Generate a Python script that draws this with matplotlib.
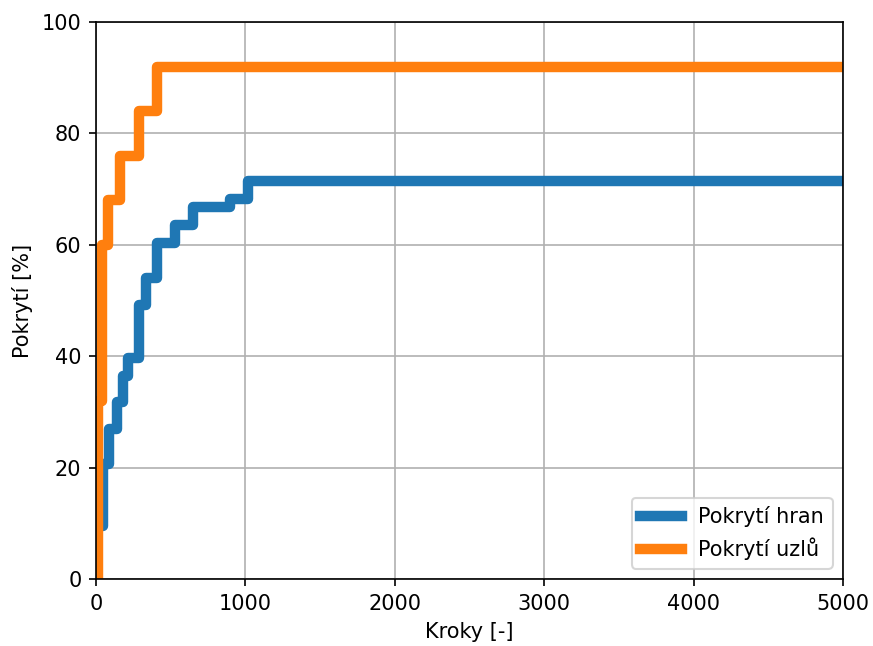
import matplotlib
matplotlib.use("Agg")
import matplotlib.pyplot as plt

# krok, pokryti hran [%]
kroky_hran = [0, 45, 89, 138, 179, 217, 290, 335, 406, 529, 652, 897, 1020, 5000]
pokryti_hran = [9.5, 20.6, 27.0, 31.7, 36.5, 39.7, 49.2, 54.0, 60.3, 63.5, 66.7, 68.3, 71.4, 71.4]

# krok, pokryti uzlu [%]
kroky_uzlu = [0, 12, 38, 83, 161, 290, 411, 5000]
pokryti_uzlu = [0, 32, 60, 68, 76, 84, 92, 92]

fig = plt.figure(figsize=(873 / 150, 646 / 150), dpi=150)
ax = fig.add_axes([96 / 873, 1 - 579 / 646, (843 - 96) / 873, (579 - 22) / 646])

ax.plot(kroky_hran, pokryti_hran, drawstyle='steps-post', linewidth=5, label='Pokrytí hran')
ax.plot(kroky_uzlu, pokryti_uzlu, drawstyle='steps-post', linewidth=5, label='Pokrytí uzlů')

ax.set_xlim(0, 5000)
ax.set_ylim(0, 100)
ax.set_xlabel('Kroky [-]')
ax.set_ylabel('Pokrytí [%]')
ax.grid()
ax.legend(loc='lower right')

fig.savefig('out.png', dpi=150)
